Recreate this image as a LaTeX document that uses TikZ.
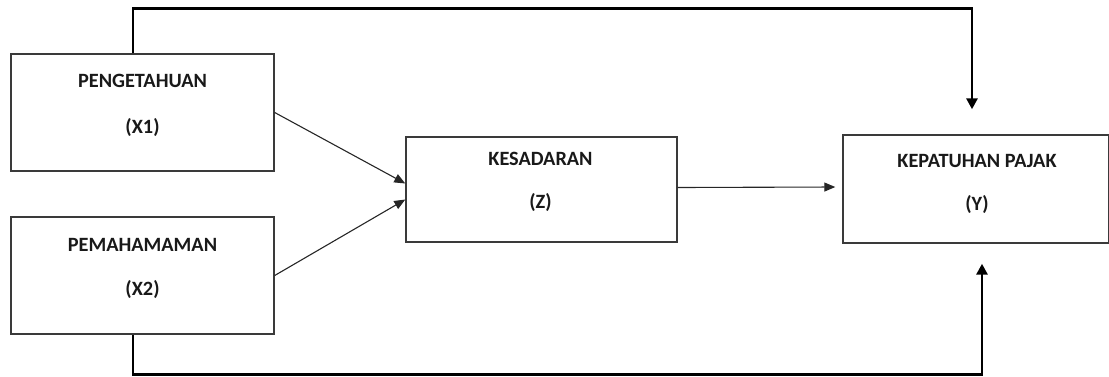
\documentclass[tikz,border=0pt]{standalone}
\usepackage{fontspec}
\setmainfont{Carlito}
\usetikzlibrary{arrows.meta,calc}
\definecolor{boxline}{HTML}{3A3A3A}
\tikzset{
  varbox/.style={draw=boxline,line width=1.4pt,rectangle,inner sep=0pt},
  lbl/.style={font=\fontsize{20.3}{24}\selectfont\bfseries,text=black!90,inner sep=0pt},
  thinarrow/.style={draw=black!85,line width=1.1pt,-{Triangle[length=11pt,width=9pt]}},
  thickarrow/.style={draw=black,line width=2.8pt,-{Triangle[length=11pt,width=11pt]}}
}
\begin{document}
\begin{tikzpicture}[x=1pt,y=-1pt]
\useasboundingbox (0,0) rectangle (1109,376);
\node[varbox,minimum width=263pt,minimum height=117pt] (x1) at (142.5,112.5) {};
\node[varbox,minimum width=263pt,minimum height=117pt] (x2) at (142.5,275.5) {};
\node[varbox,minimum width=271pt,minimum height=105pt] (z) at (541.5,189.5) {};
\node[varbox,minimum width=266pt,minimum height=108pt] (y) at (976,189) {};
\node[lbl] (x1a) at ($(x1.north)+(0,28)$) {PENGETAHUAN};
\node[lbl] (x1b) at ($(x1.north)+(0,74)$) {(X1)};
\node[lbl] (x2a) at ($(x2.north)+(0,29)$) {PEMAHAMAMAN};
\node[lbl] (x2b) at ($(x2.north)+(0,73)$) {(X2)};
\node[lbl] (za) at ($(z.north)+(-1,23)$) {KESADARAN};
\node[lbl] (zb) at ($(z.north)+(-1,66)$) {(Z)};
\node[lbl] (ya) at ($(y.north)+(1,27)$) {KEPATUHAN PAJAK};
\node[lbl] (yb) at ($(y.north)+(1,70)$) {(Y)};
\draw[thinarrow] (x1.east) -- ($(z.west)+(0,-6)$);
\draw[thinarrow] (x2.east) -- ($(z.west)+(0,10)$);
\draw[thinarrow] ($(z.east)+(0,-2)$) -- ($(y.west)+(-7,-2)$);
\draw[thickarrow] ($(x1.north)+(-9.5,0)$) -- ++(0,-44.5) -| ($(y.north)+(-4,-25)$);
\draw[thickarrow] ($(x2.south)+(-9.5,0)$) -- ++(0,39.5) -| ($(y.south)+(6,20)$);
\end{tikzpicture}
\end{document}
